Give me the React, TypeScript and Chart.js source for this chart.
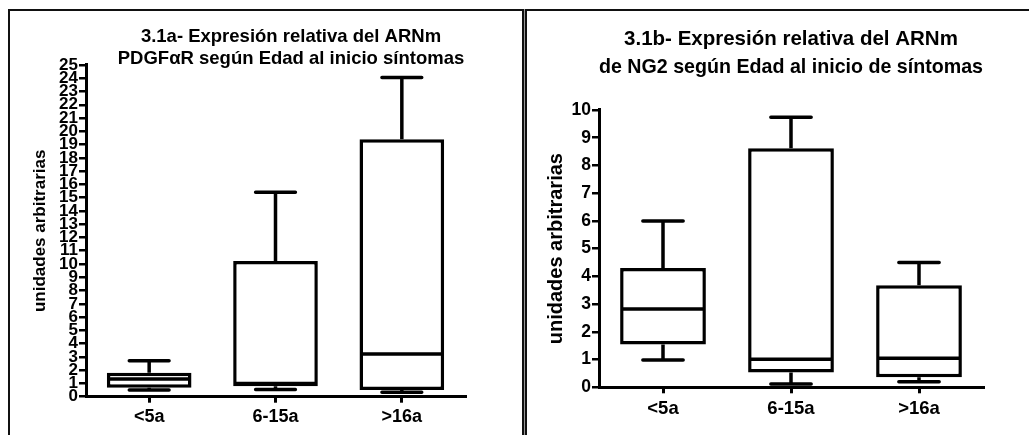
import React, { useEffect, useRef } from 'react';
import { Chart, registerables } from 'chart.js';

Chart.register(...registerables);

// ---- Data ----
const categories = ['<5a', '6-15a', '>16a'];

// Panel 3.1a: PDGFαR
const pdgfMin = [0.5, 0.55, 0.33];
const pdgfQ1 = [0.68, 0.78, 0.5];
const pdgfMedian = [1.33, 1.0, 3.22];
const pdgfQ3 = [1.81, 10.22, 19.4];
const pdgfMax = [2.71, 15.4, 24.05];

// Panel 3.1b: NG2
const ng2Min = [0.98, 0.12, 0.2];
const ng2Q1 = [1.54, 0.53, 0.36];
const ng2Median = [2.82, 1.01, 1.05];
const ng2Q3 = [4.3, 8.62, 3.68];
const ng2Max = [6.0, 9.74, 4.5];

const titleA = ['3.1a- Expresión relativa del ARNm', 'PDGFαR según Edad al inicio síntomas'];
const titleB = ['3.1b- Expresión relativa del ARNm', 'de NG2 según Edad al inicio de síntomas'];
const yAxisTitle = 'unidades arbitrarias';
const yMaxA = 25;
const yMaxB = 10;

const FAMILY = '"Liberation Sans", Arial, Helvetica, sans-serif';

function whiskerPlugin(mins: number[], q1s: number[], meds: number[], q3s: number[], maxs: number[]) {
  return {
    id: 'whiskers',
    afterDatasetsDraw(chart: any) {
      const meta = chart.getDatasetMeta(0);
      const ys = chart.scales.y;
      const ctx = chart.ctx;
      ctx.save();
      ctx.strokeStyle = '#000';
      ctx.lineWidth = 3.5;
      meta.data.forEach((bar: any, i: number) => {
        const p = bar.getProps(['x', 'width'], true);
        const x = p.x;
        const half = p.width / 2;
        const cap = p.width * 0.235;
        const yMin = ys.getPixelForValue(mins[i]);
        const yQ1 = ys.getPixelForValue(q1s[i]);
        const yMed = ys.getPixelForValue(meds[i]);
        const yQ3 = ys.getPixelForValue(q3s[i]);
        const yMax = ys.getPixelForValue(maxs[i]);
        ctx.lineCap = 'butt';
        ctx.beginPath();
        ctx.moveTo(x - half + 1, yMed);
        ctx.lineTo(x + half - 1, yMed);
        ctx.moveTo(x, yQ3);
        ctx.lineTo(x, yMax);
        ctx.moveTo(x, yQ1);
        ctx.lineTo(x, yMin);
        ctx.stroke();
        ctx.lineCap = 'round';
        ctx.beginPath();
        ctx.moveTo(x - cap, yMax);
        ctx.lineTo(x + cap, yMax);
        ctx.moveTo(x - cap, yMin);
        ctx.lineTo(x + cap, yMin);
        ctx.stroke();
      });
      ctx.restore();
    },
  };
}

type PanelProps = {
  left: number;
  width: number;
  mins: number[];
  q1s: number[];
  meds: number[];
  q3s: number[];
  maxs: number[];
  yMax: number;
  title: string[];
  titleSize: number;
  titleLineHeight: number;
  titlePadTop: number;
  titlePadBottom: number;
  titleFullSize: boolean;
  yAxisWidth: number;
  yTitleSize: number;
  yTitlePad: number;
  yTickSize: number;
  xAxisHeight: number;
  xTickSize: number;
  xTickPad: number;
  rightSpace: number;
  useDummyRight: boolean;
};

function BoxPanel(props: PanelProps) {
  const ref = useRef<HTMLCanvasElement | null>(null);
  useEffect(() => {
    if (!ref.current) return;
    const scales: any = {
      x: {
        grid: {
          display: true,
          drawOnChartArea: false,
          drawTicks: true,
          tickLength: 6,
          color: '#000',
          lineWidth: 3,
          offset: false,
        },
        border: { display: true, color: '#000', width: 3 },
        ticks: {
          color: '#000',
          font: { family: FAMILY, size: props.xTickSize, weight: 'bold' },
          padding: props.xTickPad,
          autoSkip: false,
          maxRotation: 0,
        },
        afterFit: (s: any) => {
          s.height = props.xAxisHeight;
        },
      },
      y: {
        min: 0,
        max: props.yMax,
        ticks: {
          stepSize: 1,
          autoSkip: false,
          padding: 1,
          color: '#000',
          font: { family: FAMILY, size: props.yTickSize, weight: 'bold' },
        },
        grid: {
          display: true,
          drawOnChartArea: false,
          drawTicks: true,
          tickLength: 7,
          color: '#000',
          lineWidth: 2.5,
        },
        border: { display: true, color: '#000', width: 3 },
        title: {
          display: true,
          text: yAxisTitle,
          color: '#000',
          font: { family: FAMILY, size: props.yTitleSize, weight: 'bold', lineHeight: 1.2 },
          padding: { top: props.yTitlePad, bottom: 0 },
        },
        afterFit: (s: any) => {
          s.width = props.yAxisWidth;
        },
      },
    };
    if (props.useDummyRight) {
      scales.pad = {
        type: 'linear',
        position: 'right',
        display: true,
        grid: { display: false },
        ticks: { display: false },
        border: { display: false },
        afterFit: (s: any) => {
          s.width = props.rightSpace;
        },
      };
    }
    const chart = new Chart(ref.current, {
      type: 'bar',
      data: {
        labels: categories,
        datasets: [
          {
            data: props.q1s.map((v, i) => [v, props.q3s[i]]) as any,
            backgroundColor: '#fff',
            borderColor: '#000',
            borderWidth: 3.5,
            borderSkipped: false,
            barPercentage: 0.67,
            categoryPercentage: 1,
          },
        ],
      },
      options: {
        animation: false,
        responsive: false,
        devicePixelRatio: 1,
        layout: {
          padding: { left: 0, top: 0, bottom: 0, right: props.useDummyRight ? 0 : props.rightSpace },
        },
        plugins: {
          legend: { display: false },
          tooltip: { enabled: false },
          title: {
            display: true,
            fullSize: props.titleFullSize,
            text: props.title,
            color: '#000',
            font: { family: FAMILY, size: props.titleSize, weight: 'bold', lineHeight: props.titleLineHeight },
            padding: { top: props.titlePadTop, bottom: props.titlePadBottom },
          },
        },
        scales,
      } as any,
      plugins: [whiskerPlugin(props.mins, props.q1s, props.meds, props.q3s, props.maxs)],
    });
    return () => chart.destroy();
  }, []);
  return (
    <canvas
      ref={ref}
      width={props.width}
      height={435}
      style={{ position: 'absolute', left: props.left, top: 0, width: props.width, height: 435 }}
    />
  );
}

export default function App() {
  return (
    <div style={{ position: 'absolute', left: 0, top: 0, width: 1029, height: 435, overflow: 'hidden', background: '#fff' }}>
      <BoxPanel
        left={0}
        width={582}
        mins={pdgfMin}
        q1s={pdgfQ1}
        meds={pdgfMedian}
        q3s={pdgfQ3}
        maxs={pdgfMax}
        yMax={yMaxA}
        title={titleA}
        titleSize={18.5}
        titleLineHeight={1.21}
        titlePadTop={25.6}
        titlePadBottom={-5.4}
        titleFullSize={true}
        yAxisWidth={86}
        yTitleSize={17}
        yTitlePad={29.8}
        yTickSize={17}
        xAxisHeight={38.3}
        xTickSize={18}
        xTickPad={4}
        rightSpace={117}
        useDummyRight={true}
      />
      <BoxPanel
        left={526}
        width={503}
        mins={ng2Min}
        q1s={ng2Q1}
        meds={ng2Median}
        q3s={ng2Q3}
        maxs={ng2Max}
        yMax={yMaxB}
        title={titleB}
        titleSize={20.5}
        titleLineHeight={1.37}
        titlePadTop={25.5}
        titlePadBottom={28.3}
        titleFullSize={false}
        yAxisWidth={73}
        yTitleSize={20}
        yTitlePad={18}
        yTickSize={17.5}
        xAxisHeight={47.7}
        xTickSize={18.5}
        xTickPad={5}
        rightSpace={46}
        useDummyRight={false}
      />
      <div
        style={{
          position: 'absolute',
          left: 8,
          top: 9,
          width: 1021,
          height: 426,
          borderTop: '2px solid #111',
          borderLeft: '2px solid #111',
          boxSizing: 'border-box',
          pointerEvents: 'none',
        }}
      />
      <div
        style={{
          position: 'absolute',
          left: 522,
          top: 9,
          width: 5,
          height: 426,
          borderLeft: '2px solid #111',
          borderRight: '2px solid #111',
          background: '#999',
          boxSizing: 'border-box',
          pointerEvents: 'none',
        }}
      />
    </div>
  );
}
